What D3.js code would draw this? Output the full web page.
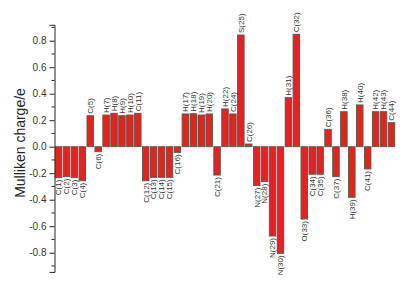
<!DOCTYPE html>
<html>
<head>
<meta charset="utf-8">
<script src="https://cdn.jsdelivr.net/npm/d3@7"></script>
<style>
  body { margin: 0; background: #fff; }
  svg { display: block; font-family: Arial, "Liberation Sans", sans-serif; }
</style>
</head>
<body>
<div id="plot"></div>
<script>
let svgWidth = 407;
let svgHeight = 295;

// atoms (no 23) and their Mulliken charges
let atoms = ['C(1)','C(2)','C(3)','C(4)','C(5)','C(6)','H(7)','H(8)','H(9)','H(10)','C(11)',
  'C(12)','C(13)','C(14)','C(15)','C(16)','H(17)','H(18)','H(19)','H(20)','C(21)','H(22)',
  'C(24)','S(25)','C(26)','N(27)','N(28)','N(29)','N(30)','H(31)','C(32)','O(33)','C(34)',
  'C(35)','C(36)','C(37)','H(38)','H(39)','H(40)','C(41)','H(42)','H(43)','C(44)'];
let charges = [-0.234,-0.226,-0.234,-0.257,0.234,-0.038,0.239,0.252,0.234,0.239,0.252,
  -0.257,-0.231,-0.231,-0.231,-0.043,0.247,0.249,0.239,0.247,-0.214,0.285,
  0.247,0.843,0.020,-0.294,-0.264,-0.674,-0.805,0.370,0.848,-0.546,-0.208,
  -0.208,0.131,-0.226,0.264,-0.382,0.315,-0.168,0.264,0.264,0.181];

let yTicks = [-0.8,-0.6,-0.4,-0.2,0.0,0.2,0.4,0.6,0.8];
let yMinor = [-0.9,-0.7,-0.5,-0.3,-0.1,0.1,0.3,0.5,0.7,0.9];
let yTitle = 'Mulliken charge/e';

let data = atoms.map((a,i)=>({atom:a, q:charges[i]}));

let svg = d3.select('#plot')
  .append('svg')
    .attr('width',svgWidth)
    .attr('height',svgHeight);

let x = d3.scaleBand()
  .domain(atoms)
  .range([54.5,395.5])
  .paddingInner(0.18)
  .paddingOuter(0.1);

let y = d3.scaleLinear()
  .domain([-0.945,0.92])
  .range([271.9,24.8]);

// bars
svg.append('g')
  .selectAll('rect')
  .data(data)
  .join('rect')
    .attr('x',d=>x(d.atom))
    .attr('width',x.bandwidth())
    .attr('y',d=>Math.min(y(0),y(d.q)))
    .attr('height',d=>Math.abs(y(d.q)-y(0)))
    .attr('fill','#e5231e')
    .attr('stroke','#555')
    .attr('stroke-width',0.9);

// atom labels, vertical
svg.append('g')
  .selectAll('text')
  .data(data)
  .join('text')
    .attr('transform',d=>{
      let cx = x(d.atom)+x.bandwidth()/2;
      let cy = d.q>=0 ? y(d.q)-2 : y(d.q)+2;
      return `translate(${cx},${cy}) rotate(-90)`;
    })
    .attr('text-anchor',d=>d.q>=0 ? 'start' : 'end')
    .attr('dy','0.35em')
    .attr('font-size',8)
    .attr('fill','#333')
    .text(d=>d.atom);

// y axis
let yAxis = d3.axisLeft(y)
  .tickValues(yTicks)
  .tickSize(5)
  .tickPadding(3)
  .tickFormat(d=>d.toFixed(1));

let ax = svg.append('g')
  .attr('transform','translate(54.5,0)')
  .call(yAxis);
ax.select('.domain').attr('stroke','#222');
ax.selectAll('.tick line').attr('stroke','#222');
ax.selectAll('.tick text')
  .attr('font-family','Arial, "Liberation Sans", sans-serif')
  .attr('font-size',10)
  .attr('fill','#333');

ax.selectAll('.minor')
  .data(yMinor)
  .join('line')
    .attr('class','minor')
    .attr('x1',-3).attr('x2',0)
    .attr('y1',d=>y(d)).attr('y2',d=>y(d))
    .attr('stroke','#222');

svg.append('text')
  .attr('transform','translate(20,143) rotate(-90)')
  .attr('text-anchor','middle')
  .attr('dy','0.35em')
  .attr('font-size',14)
  .attr('fill','#222')
  .text(yTitle);
</script>
</body>
</html>
